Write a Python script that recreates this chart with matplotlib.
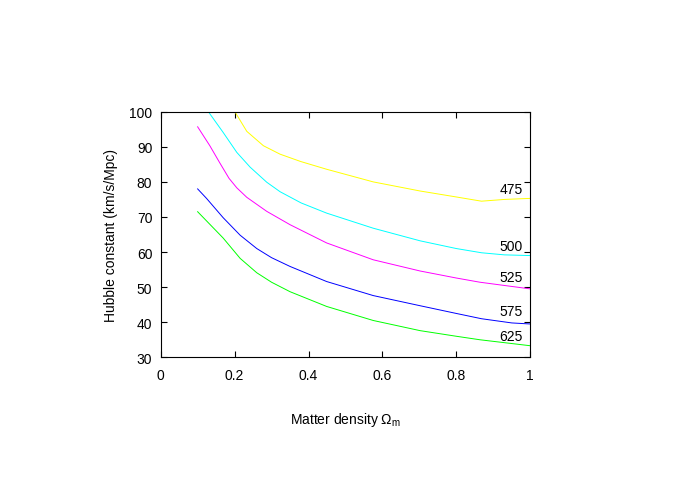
import numpy as np
import matplotlib
matplotlib.use("Agg")
import matplotlib.pyplot as plt

plt.rcParams['font.family'] = ['Liberation Sans', 'DejaVu Sans']
plt.rcParams['mathtext.fontset'] = 'custom'
plt.rcParams['mathtext.rm'] = 'Liberation Sans'
plt.rcParams['mathtext.it'] = 'Liberation Sans'

# curve
x_475 = [0.203, 0.233, 0.278, 0.323, 0.379, 0.449, 0.575, 0.702, 0.800, 0.868, 0.930, 1.0]
h_475 = [99.6, 94.4, 90.3, 87.9, 85.8, 83.6, 80.0, 77.4, 75.7, 74.5, 75.0, 75.3]

x_500 = [0.129, 0.169, 0.206, 0.242, 0.287, 0.323, 0.380, 0.449, 0.575, 0.702, 0.800, 0.868, 0.930, 1.0]
h_500 = [100.0, 94.1, 88.4, 84.2, 79.9, 77.2, 74.0, 71.1, 66.8, 63.2, 61.0, 59.8, 59.2, 59.0]

x_525 = [0.100, 0.133, 0.160, 0.185, 0.206, 0.233, 0.287, 0.350, 0.449, 0.575, 0.702, 0.800, 0.864, 1.0]
h_525 = [95.7, 90.3, 85.4, 81.0, 78.3, 75.6, 71.6, 67.8, 62.6, 57.8, 54.6, 52.6, 51.4, 49.5]

x_575 = [0.100, 0.124, 0.169, 0.215, 0.260, 0.300, 0.350, 0.449, 0.575, 0.702, 0.800, 0.868, 0.950, 1.0]
h_575 = [78.0, 75.3, 69.8, 64.8, 61.0, 58.4, 55.9, 51.6, 47.6, 44.7, 42.5, 41.0, 39.8, 39.5]

x_625 = [0.100, 0.169, 0.215, 0.260, 0.300, 0.350, 0.449, 0.575, 0.702, 0.800, 0.864, 1.0]
h_625 = [71.5, 64.0, 58.2, 54.1, 51.4, 48.7, 44.5, 40.5, 37.6, 36.0, 35.0, 33.3]

labels = ['475', '500', '525', '575', '625']
label_y = [78.0, 61.8, 53.0, 43.1, 36.0]
colors = ['#ffff00', '#00ffff', '#ff00ff', '#0000ff', '#00ff00']

curves = [(x_475, h_475), (x_500, h_500), (x_525, h_525), (x_575, h_575), (x_625, h_625)]

fig = plt.figure(figsize=(6.92, 4.85), dpi=100)
ax = fig.add_axes([0.2322, 0.2612, 0.5341, 0.5064])

for (xs, hs), c in zip(curves, colors):
    ax.plot(xs, hs, color=c, lw=0.7)

for lab, ly in zip(labels, label_y):
    ax.text(0.979, ly, lab, ha='right', va='center', fontsize=10)

ax.set_xlim(0, 1)
ax.set_ylim(30, 100)
ax.set_xticks([0, 0.2, 0.4, 0.6, 0.8, 1])
ax.set_xticklabels(['0', '0.2', '0.4', '0.6', '0.8', '1'])
ax.set_yticks(np.arange(30, 101, 10))
ax.tick_params(direction='in', top=True, right=True, length=4, width=0.8, labelsize=10)
ax.tick_params(axis='x', pad=8)
ax.tick_params(axis='y', pad=6)
for s in ax.spines.values():
    s.set_linewidth(0.8)

ax.set_xlabel(r'Matter density $\Omega_{\mathrm{m}}$', fontsize=10, labelpad=20)
ax.set_ylabel('Hubble constant (km/s/Mpc)', fontsize=10, labelpad=8)

fig.savefig('out.png', dpi=100)
